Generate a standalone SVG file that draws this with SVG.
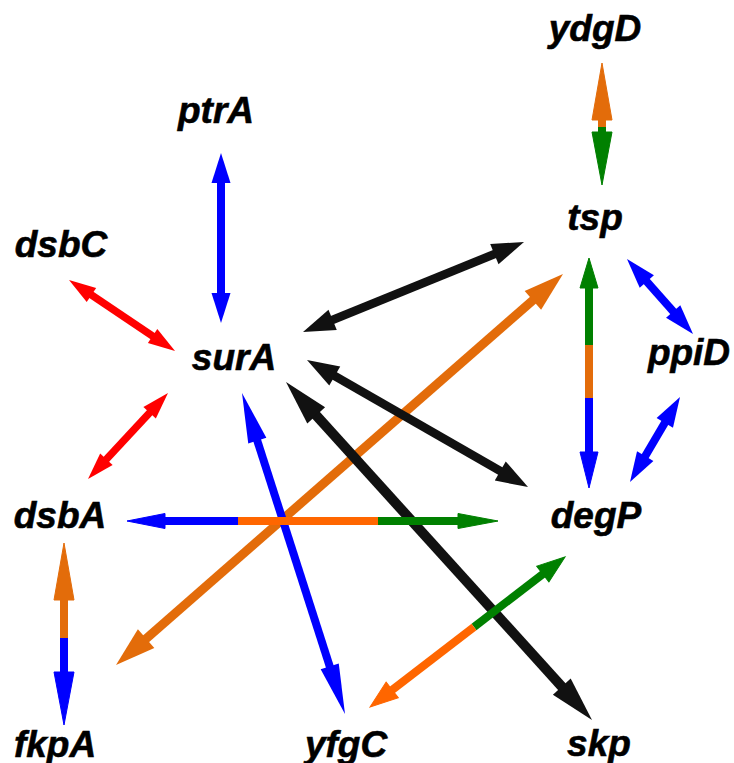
<svg xmlns="http://www.w3.org/2000/svg" width="734" height="763" viewBox="0 0 734 763">
  <style>
    .lbl { font-family: "Liberation Sans", Arial, sans-serif; font-weight: bold; font-style: italic; font-size: 37px; text-anchor: middle; fill: #000; stroke: #000; stroke-width: 0.6; }
    .blue { fill: #0000ff; stroke: #0000ff; }
    .red { fill: #ff0000; stroke: #ff0000; }
    .black { fill: #111; stroke: #111; }
    .green { fill: #008000; stroke: #008000; }
    .orange { fill: #e36c0a; stroke: #e36c0a; }
    .orange2 { fill: #ff6600; stroke: #ff6600; }
    polygon { stroke: none; }
    line { stroke-width: 8; fill: none; }
  </style>
  <rect width="734" height="763" fill="#fff"/>

  <g id="connectors">
    <!-- ydgD <-> tsp (vertical) -->
    <g id="e-ydgD-tsp">
      <polygon class="orange" points="602,63 592,120 612,120"/>
      <line class="orange" x1="602" y1="119" x2="602" y2="127"/>
      <line class="green" x1="602" y1="127" x2="602" y2="133"/>
      <polygon class="green" points="602,185 592,132 612,132"/>
    </g>
    <!-- ptrA <-> surA -->
    <g id="e-ptrA-surA" class="blue">
      <polygon points="221,153 211.5,183 230.5,183"/>
      <line x1="221" y1="182" x2="221" y2="294"/>
      <polygon points="221,323 211.5,293 230.5,293"/>
    </g>
    <!-- dsbC <-> surA -->
    <g id="e-dsbC-surA" class="red" transform="translate(69,280) rotate(33.8)">
      <polygon points="0,0 27,-8.5 27,8.5"/>
      <line x1="26" y1="0" x2="101.6" y2="0" style="stroke-width:7.5"/>
      <polygon points="127.6,0 100.6,-8.5 100.6,8.5"/>
    </g>
    <!-- surA <-> dsbA -->
    <g id="e-surA-dsbA" class="red" transform="translate(168,393) rotate(132.9)">
      <polygon points="0,0 27,-8.5 27,8.5"/>
      <line x1="26" y1="0" x2="91.5" y2="0" style="stroke-width:7.5"/>
      <polygon points="117.5,0 90.5,-8.5 90.5,8.5"/>
    </g>
    <!-- surA <-> tsp -->
    <g id="e-surA-tsp" class="black" transform="translate(303,332) rotate(-22.16)">
      <polygon points="0,0 32,-11 32,11"/>
      <line x1="31" y1="0" x2="207.6" y2="0" style="stroke-width:8.5"/>
      <polygon points="238.6,0 206.6,-11 206.6,11"/>
    </g>
    <!-- fkpA <-> tsp -->
    <g id="e-fkpA-tsp" class="orange" transform="translate(116,665) rotate(-41.18)">
      <polygon points="0,0 40,-12.5 40,12.5"/>
      <line x1="39" y1="0" x2="554.9" y2="0" style="stroke-width:9"/>
      <polygon points="593.9,0 553.9,-12.5 553.9,12.5"/>
    </g>
    <!-- tsp <-> degP (vertical) -->
    <g id="e-tsp-degP">
      <polygon class="green" points="589,258 580,288 598,288"/>
      <line class="green" x1="589" y1="287" x2="589" y2="345"/>
      <line class="orange" x1="589" y1="345" x2="589" y2="398"/>
      <line class="blue" x1="589" y1="398" x2="589" y2="453"/>
      <polygon class="blue" points="589,488 580,452 598,452"/>
    </g>
    <!-- tsp <-> ppiD -->
    <g id="e-tsp-ppiD" class="blue" transform="translate(627,259) rotate(48.65)">
      <polygon points="0,0 30,-9.5 30,9.5"/>
      <line x1="29" y1="0" x2="70.9" y2="0"/>
      <polygon points="99.9,0 69.9,-9.5 69.9,9.5"/>
    </g>
    <!-- ppiD <-> degP -->
    <g id="e-ppiD-degP" class="blue" transform="translate(680,397) rotate(120.47)">
      <polygon points="0,0 30,-9.5 30,9.5"/>
      <line x1="29" y1="0" x2="69.6" y2="0"/>
      <polygon points="98.6,0 68.6,-9.5 68.6,9.5"/>
    </g>
    <!-- surA <-> degP -->
    <g id="e-surA-degP" class="black" transform="translate(307,360) rotate(29.88)">
      <polygon points="0,0 32,-11 32,11"/>
      <line x1="31" y1="0" x2="223.9" y2="0" style="stroke-width:8.5"/>
      <polygon points="254.9,0 222.9,-11 222.9,11"/>
    </g>
    <!-- surA <-> skp -->
    <g id="e-surA-skp" class="black" transform="translate(286,382) rotate(47.84)">
      <polygon points="0,0 45,-12 45,12"/>
      <line x1="44" y1="0" x2="411.9" y2="0" style="stroke-width:10"/>
      <polygon points="455.9,0 410.9,-12 410.9,12"/>
    </g>
    <!-- surA <-> yfgC -->
    <g id="e-surA-yfgC" class="blue" transform="translate(242,393) rotate(72.21)">
      <polygon points="0,0 50,-9.5 50,9.5"/>
      <line x1="49" y1="0" x2="288.1" y2="0"/>
      <polygon points="337.1,0 287.1,-9.5 287.1,9.5"/>
    </g>
    <!-- dsbA <-> degP (horizontal) -->
    <g id="e-dsbA-degP">
      <polygon class="blue" points="127,521 165,513.5 165,528.5"/>
      <line class="blue" x1="164" y1="521" x2="238" y2="521"/>
      <line class="orange2" x1="238" y1="521" x2="378" y2="521"/>
      <line class="green" x1="378" y1="521" x2="459" y2="521"/>
      <polygon class="green" points="498,521 458,513.5 458,528.5"/>
    </g>
    <!-- dsbA <-> fkpA (vertical) -->
    <g id="e-dsbA-fkpA">
      <polygon class="orange" points="64,543 54,600 74,600"/>
      <line class="orange" x1="64" y1="599" x2="64" y2="638"/>
      <line class="blue" x1="64" y1="638" x2="64" y2="673"/>
      <polygon class="blue" points="64,725 54,672 74,672"/>
    </g>
    <!-- yfgC <-> degP -->
    <g id="e-yfgC-degP" transform="translate(565,557) rotate(142.43)">
      <polygon class="green" points="0,0 28,-10 28,10"/>
      <line class="green" x1="27" y1="0" x2="114.8" y2="0"/>
      <line class="orange2" x1="114.8" y1="0" x2="219" y2="0"/>
      <polygon class="orange2" points="246,0 218,-10 218,10"/>
    </g>
  </g>

  <g id="node-ydgD"><text class="lbl" x="595" y="41">ydgD</text></g>
  <g id="node-ptrA"><text class="lbl" x="216" y="123">ptrA</text></g>
  <g id="node-dsbC"><text class="lbl" x="61" y="257">dsbC</text></g>
  <g id="node-tsp"><text class="lbl" x="595" y="230">tsp</text></g>
  <g id="node-surA"><text class="lbl" x="234" y="370">surA</text></g>
  <g id="node-ppiD"><text class="lbl" x="689" y="365">ppiD</text></g>
  <g id="node-dsbA"><text class="lbl" x="60" y="528">dsbA</text></g>
  <g id="node-degP"><text class="lbl" x="596" y="528">degP</text></g>
  <g id="node-fkpA"><text class="lbl" x="55" y="757">fkpA</text></g>
  <g id="node-yfgC"><text class="lbl" x="346" y="757">yfgC</text></g>
  <g id="node-skp"><text class="lbl" x="599" y="756">skp</text></g>
</svg>
